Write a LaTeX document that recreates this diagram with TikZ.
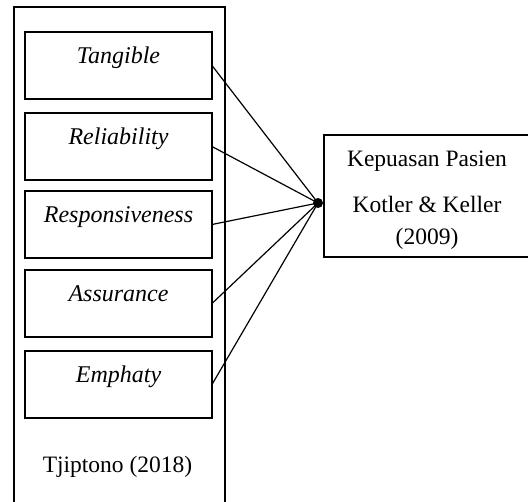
\documentclass[tikz,border=0pt]{standalone}
\usepackage{fontspec}
\setmainfont{Liberation Serif}
\begin{document}
\begin{tikzpicture}[x=1pt,y=-1pt,
  dim/.style={draw, line width=1.3pt, inner sep=0pt, outer sep=0pt, anchor=north west,
    minimum width=187pt, text height=32pt, text depth=35pt,
    font=\fontsize{24}{28}\selectfont\itshape},
  frame/.style={draw, line width=1.3pt, inner sep=0pt, outer sep=0pt, anchor=north west},
  plain/.style={inner sep=0pt, font=\fontsize{23.5}{32}\selectfont},
  link/.style={line width=1.2pt}]
\useasboundingbox (0,0) rectangle (528,502);
\clip (0,0) rectangle (528,502);
% outer frame (bottom edge falls outside the picture)
\node[frame, minimum width=211pt, minimum height=530pt] (outer) at (14,7) {};
% dimensions
\node[dim] (tan) at (25,32)  {Tangible};
\node[dim] (rel) at (25,113) {Reliability};
\node[dim] (res) at (25,191) {Responsiveness};
\node[dim] (ass) at (25,270) {Assurance};
\node[dim] (emp) at (25,351) {Emphaty};
\node[plain, anchor=base] (src) at (117.5,473) {Tjiptono (2018)};
% target box
\node[frame, minimum width=206pt, minimum height=122pt] (kp) at (324,135) {};
\node[plain, anchor=base] (kptext) at (427,167)
  {\begin{tabular}[t]{@{}c@{}}Kepuasan Pasien\\[14pt]Kotler \& Keller\\(2009)\end{tabular}};
% hub
\coordinate (hub) at (318,203);
\foreach \n in {tan,rel,res,ass,emp} \draw[link] (\n.east) -- (hub);
\fill (hub) circle (5pt);
\end{tikzpicture}
\end{document}
